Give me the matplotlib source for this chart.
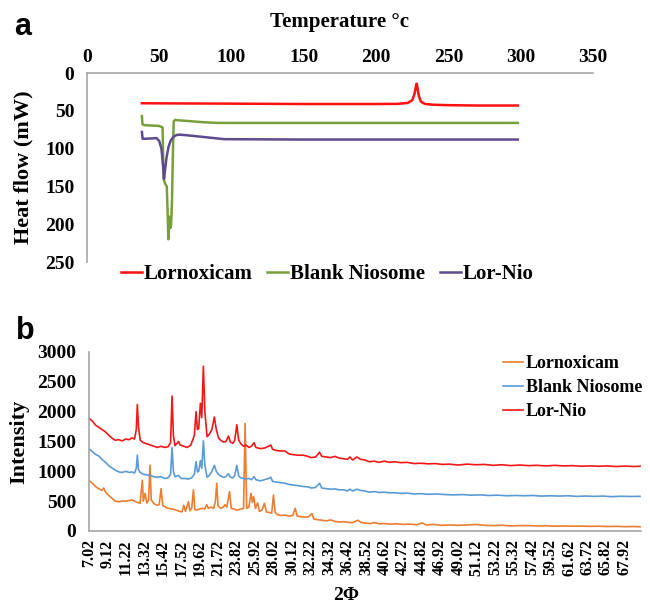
import matplotlib.pyplot as plt
import numpy as np

# ---- DSC data (panel a) ----
dsc_lor_t = [38, 60, 100, 150, 200, 215, 222, 225, 226.5, 227.5, 228, 228.5, 229.5, 231, 234, 240, 250, 270, 298]
dsc_lor_hf = [40, 40.2, 40.5, 41, 41, 40.8, 39.5, 36, 28, 18, 14, 18, 30, 38, 41, 42, 42.5, 43, 43]

dsc_blank_t = [38, 38.4, 40, 50, 52.3, 53.0, 54.0, 55.2, 55.8, 56.3, 57.0, 57.6, 58.2, 58.8, 59.4, 60.0, 61.0, 63, 70, 80, 90, 150, 298]
dsc_blank_hf = [57, 68, 69, 70, 72, 140, 146, 150, 185, 220, 190, 205, 200, 170, 110, 64, 62, 62.5, 63.5, 65, 66, 66, 66]

dsc_nio_t = [38, 38.5, 40, 45, 48, 50, 51.5, 52.5, 53.3, 54, 55, 56.5, 58, 60, 62, 64, 70, 80, 90, 95, 150, 298]
dsc_nio_hf = [78, 87, 87, 86.5, 86, 90, 100, 120, 140, 128, 112, 97, 89, 84, 82, 81.5, 82.5, 84.5, 86.5, 87.5, 88, 88]

# ---- XRD data (panel b) ----
xrd_nio_x = [7.02, 7.4, 7.8, 8.1, 8.5, 8.9, 9.3, 9.7, 10.0, 10.4, 10.8, 11.2, 11.6, 11.9, 12.2, 12.4, 12.52, 12.65,
             12.85, 13.2, 13.6, 14.0, 14.4, 14.8, 15.2, 15.6, 16.0, 16.3, 16.47, 16.62, 16.8, 17.2, 17.4, 17.8, 18.2,
             18.6, 19.0, 19.2, 19.35, 19.5, 19.69, 19.85, 20.03, 20.2, 20.45, 20.7, 21.0, 21.28, 21.5, 21.75, 22.0,
             22.3, 22.6, 22.88, 23.1, 23.4, 23.6, 23.83, 24.05, 24.3, 24.6, 24.9, 25.2, 25.5, 25.8, 26.0, 26.5, 27.0,
             27.44, 27.7, 27.9, 28.3, 28.8, 29.3, 29.8, 30.2, 30.8, 31.4, 31.9, 32.3, 32.8, 33.24, 33.5, 34.0, 34.5,
             35.0, 35.5, 36.0, 36.4, 36.7, 37.0, 37.5, 37.9, 38.4, 38.9, 39.5, 40.0, 40.6, 41.2, 41.8, 42.5, 43.2,
             44.0, 44.8, 45.6, 46.4, 47.2, 48.0, 49.0, 50.0, 51.0, 52.0, 53.0, 54.0, 55.0, 56.0, 57.0, 58.0, 59.0,
             60.0, 61.0, 62.0, 63.0, 64.0, 65.0, 66.0, 67.0, 68.0, 69.0, 69.7]
xrd_nio_y = [1890, 1840, 1770, 1740, 1700, 1660, 1600, 1550, 1520, 1530, 1510, 1540, 1530, 1560, 1540, 1700, 2120, 1750,
             1520, 1480, 1460, 1440, 1420, 1400, 1420, 1400, 1410, 1480, 2260, 1600, 1430, 1500, 1440, 1420, 1400,
             1440, 1600, 2000, 1700, 1720, 2140, 1900, 2760, 2000, 1580, 1620, 1700, 1910, 1700, 1560, 1520,
             1490, 1500, 1590, 1490, 1470, 1520, 1780, 1520, 1460, 1420, 1440, 1400, 1420, 1480, 1400, 1380, 1390,
             1420, 1440, 1370, 1350, 1340, 1340, 1290, 1280, 1270, 1270, 1250, 1230, 1240, 1320, 1250, 1240, 1230,
             1250, 1220, 1210, 1200, 1240, 1190, 1240, 1200, 1190, 1160, 1170, 1150, 1170, 1150, 1160, 1145, 1150,
             1130, 1135, 1125, 1130, 1115, 1120, 1105, 1120, 1110, 1115, 1100, 1110, 1095, 1105, 1095, 1100, 1090,
             1100, 1090, 1095, 1085, 1090, 1085, 1090, 1080, 1088, 1080, 1085]

xrd_blank_x = [7.02, 7.4, 7.8, 8.1, 8.5, 8.9, 9.3, 9.7, 10.0, 10.4, 10.8, 11.2, 11.6, 11.9, 12.2, 12.4, 12.52, 12.65,
               12.85, 13.2, 13.6, 14.0, 14.4, 14.8, 15.2, 15.6, 16.0, 16.3, 16.47, 16.62, 16.8, 17.2, 17.5, 17.9,
               18.3, 18.7, 19.0, 19.2, 19.35, 19.5, 19.69, 19.85, 20.03, 20.2, 20.45, 20.7, 21.0, 21.28, 21.5,
               21.75, 22.0, 22.3, 22.6, 22.88, 23.1, 23.4, 23.6, 23.83, 24.05, 24.3, 24.6, 24.9, 25.2, 25.5, 25.8,
               26.0, 26.5, 27.0, 27.44, 27.7, 27.9, 28.3, 28.8, 29.3, 29.8, 30.2, 30.8, 31.4, 31.9, 32.3, 32.8, 33.24,
               33.5, 34.0, 34.5, 35.0, 35.5, 36.0, 36.4, 36.7, 37.0, 37.5, 37.9, 38.4, 38.9, 39.5, 40.0, 40.6, 41.2,
               41.8, 42.5, 43.2, 44.0, 44.8, 45.6, 46.6, 47.5, 48.5, 49.5, 50.5, 51.5, 52.5, 53.5, 54.5, 55.5, 56.5,
               57.5, 58.5, 59.5, 60.5, 61.5, 62.5, 63.5, 64.5, 65.5, 66.5, 67.5, 68.5, 69.7]
xrd_blank_y = [1380, 1330, 1280, 1260, 1200, 1150, 1090, 1050, 1020, 990, 980, 1000, 980, 990, 970, 1050, 1270, 1030,
               980, 950, 940, 930, 910, 900, 910, 880, 890, 950, 1400, 1000, 910, 930, 880, 880,
               870, 890, 950, 1160, 990, 1000, 1180, 1050, 1510, 1100, 900, 930, 1000, 1100, 1000,
               950, 920, 900, 910, 960, 900, 890, 930, 1100, 920, 890, 880, 870, 880, 860, 910,
               860, 840, 860, 880, 900, 830, 820, 810, 800, 780, 770, 760, 745, 740, 720, 730, 800,
               720, 710, 700, 705, 690, 690, 670, 700, 670, 700, 680, 670, 650, 660, 645, 650, 640,
               640, 630, 635, 620, 625, 615, 620, 610, 605, 610, 600, 605, 595, 600, 590, 595, 590,
               595, 585, 590, 585, 590, 580, 585, 580, 585, 575, 582, 578, 580]

xrd_lor_x = [7.02, 7.4, 7.8, 8.1, 8.5, 8.7, 8.9, 9.3, 9.7, 10.0, 10.4, 10.8, 11.2, 11.6, 11.9, 12.2, 12.5, 12.83,
             13.09, 13.2, 13.4, 13.6, 13.8, 13.96, 14.1, 14.3, 14.5, 14.8, 15.0, 15.22, 15.4, 15.7, 16.0, 16.5,
             16.9, 17.3, 17.6, 17.8, 18.0, 18.33, 18.5, 18.7, 18.9, 19.05, 19.3, 19.6, 19.9, 20.2, 20.4, 20.6,
             20.9, 21.2, 21.4, 21.55, 21.7, 22.0, 22.3, 22.5, 22.7, 23.0, 23.2, 23.5, 23.8, 24.1, 24.4, 24.6,
             24.78, 24.95, 25.2, 25.46, 25.6, 25.75, 25.95, 26.2, 26.4, 26.7, 26.97, 27.2, 27.5, 27.8, 28.0, 28.2,
             28.5, 28.9, 29.3, 29.8, 30.2, 30.47, 30.7, 31.1, 31.6, 32.0, 32.37, 32.6, 33.0, 33.5, 34.0, 34.5,
             35.0, 35.5, 36.0, 36.5, 37.0, 37.6, 38.0, 38.5, 39.0, 39.5, 40.0, 40.6, 41.2, 42.0, 42.8, 43.5, 44.3,
             44.9, 45.4, 46.2, 47.0, 48.0, 49.0, 50.0, 51.0, 52.0, 53.0, 54.0, 55.0, 56.0, 57.0, 58.0, 59.0, 60.0,
             61.0, 62.0, 63.0, 64.0, 65.0, 66.0, 67.0, 68.0, 69.0, 69.7]
xrd_lor_y = [850, 800, 740, 710, 680, 720, 650, 590, 540, 500, 490, 500, 500, 510, 520, 500, 480, 465,
             850, 500, 630, 470, 520, 1100, 520, 480, 450, 430, 440, 710, 430, 400, 380, 370,
             350, 330, 320, 430, 330, 490, 340, 380, 690, 360, 350, 370, 380, 370, 440, 380,
             400, 380, 500, 800, 420, 380, 400, 440, 400, 660, 380, 370, 350, 360, 370, 380,
             1800, 380, 400, 630, 480, 575, 380, 470, 330, 350, 465, 320, 310, 300, 600, 310,
             270, 260, 265, 250, 260, 380, 250, 240, 230, 240, 290, 200, 190, 180, 170, 185,
             160, 150, 155, 145, 140, 180, 140, 130, 125, 140, 120, 125, 115, 120, 110, 115, 105,
             135, 100, 110, 95, 100, 95, 100, 110, 95, 90, 95, 85, 90, 90, 85, 88, 80,
             85, 80, 82, 78, 80, 75, 78, 72, 75, 70]

xrd_ticks = [7.02 + 2.1 * k for k in range(30)]
series_names = ["Lornoxicam", "Blank Niosome", "Lor-Nio"]

serif = "Liberation Serif"
grey = "#A6A6A6"

fig = plt.figure(figsize=(6.5, 6.04), dpi=100)

# ---- panel a ----
ax1 = fig.add_axes([0.1338, 0.5662, 0.7785, 0.3129])
ax1.plot(dsc_lor_t, dsc_lor_hf, color="#FF1010", lw=1.8, label=series_names[0])
ax1.plot(dsc_blank_t, dsc_blank_hf, color="#77A03A", lw=1.8, label=series_names[1])
ax1.plot(dsc_nio_t, dsc_nio_hf, color="#5E4A8E", lw=1.8, label=series_names[2])
ax1.set_xlim(0, 350)
ax1.set_ylim(250, 0)
ax1.set_xticks(range(0, 351, 50))
ax1.set_yticks(range(0, 251, 50))
ax1.xaxis.tick_top()
ax1.xaxis.set_label_position("top")
for sp in ["right", "bottom"]:
    ax1.spines[sp].set_visible(False)
for sp in ["left", "top"]:
    ax1.spines[sp].set_color(grey)
    ax1.spines[sp].set_linewidth(1.2)
ax1.tick_params(length=0, labelsize=14)
ax1.tick_params(axis="x", pad=5)
ax1.tick_params(axis="y", pad=9)
for lab in ax1.get_xticklabels() + ax1.get_yticklabels():
    lab.set_fontfamily(serif)
    lab.set_fontweight("bold")
ax1.set_xlabel("Temperature °c", fontsize=15, fontfamily=serif, fontweight="bold", labelpad=16)
ax1.set_ylabel("Heat flow (mW)", fontsize=16, fontfamily=serif, fontweight="bold", labelpad=8)
ax1.legend(loc="upper center", bbox_to_anchor=(0.475, -0.01), ncol=3, frameon=False,
           borderpad=0, borderaxespad=0, handlelength=1.0, handletextpad=0.1, columnspacing=0.7,
           prop={"family": serif, "weight": "bold", "size": 15})

# ---- panel b ----
ax2 = fig.add_axes([0.1369, 0.1209, 0.8492, 0.2964])
ax2.plot(xrd_lor_x, xrd_lor_y, color="#ED7D31", lw=1.2, label=series_names[0])
ax2.plot(xrd_blank_x, xrd_blank_y, color="#5B9BD5", lw=1.2, label=series_names[1])
ax2.plot(xrd_nio_x, xrd_nio_y, color="#F01818", lw=1.2, label=series_names[2])
ax2.set_xlim(7.02, 69.8)
ax2.set_ylim(0, 3000)
ax2.set_xticks(xrd_ticks)
ax2.set_xticklabels(["%.2f" % v for v in xrd_ticks], rotation=90)
ax2.set_yticks(range(0, 3001, 500))
for sp in ["right", "top"]:
    ax2.spines[sp].set_visible(False)
for sp in ["left", "bottom"]:
    ax2.spines[sp].set_color(grey)
    ax2.spines[sp].set_linewidth(1.2)
ax2.tick_params(length=0)
ax2.tick_params(axis="x", labelsize=11.5, pad=6)
ax2.tick_params(axis="y", labelsize=14, pad=9)
for lab in ax2.get_xticklabels() + ax2.get_yticklabels():
    lab.set_fontfamily(serif)
    lab.set_fontweight("bold")
ax2.set_ylabel("Intensity", fontsize=16, fontfamily=serif, fontweight="bold", labelpad=6)
fig.text(346 / 650, 1 - 596 / 604, "2Φ", fontsize=14, fontfamily=serif, fontweight="bold",
         ha="center", va="center")
fig.legend(*ax2.get_legend_handles_labels(), loc="upper left", bbox_to_anchor=(503 / 650, 1 - 355 / 604),
           frameon=False, borderpad=0, borderaxespad=0, handlelength=1.1, handletextpad=0.15,
           labelspacing=0.4, prop={"family": serif, "weight": "bold", "size": 13})

# panel letters
fig.text(23 / 650, 1 - 27 / 604, "a", fontsize=22, fontfamily="Liberation Sans", fontweight="bold",
         ha="center", va="center")
fig.text(25 / 650, 1 - 331 / 604, "b", fontsize=22, fontfamily="Liberation Sans", fontweight="bold",
         ha="center", va="center")

fig.savefig("out.png", dpi=100)
